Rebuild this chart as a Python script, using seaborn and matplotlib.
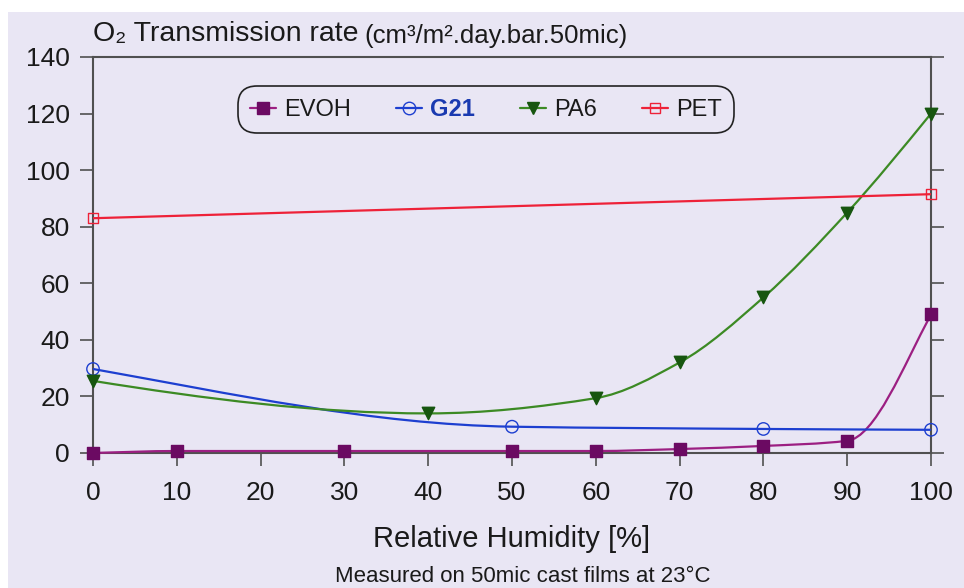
import numpy as np
import matplotlib
matplotlib.use("Agg")
import matplotlib.pyplot as plt
from matplotlib.path import Path
from matplotlib.patches import PathPatch, Rectangle
from matplotlib.lines import Line2D
import seaborn as sns

# values
rh_evoh = [0, 10, 30, 50, 60, 70, 80, 90, 100]
evoh = [0, 0.7, 0.7, 0.7, 0.7, 1.4, 2.5, 4.3, 49]

rh_g21 = [0, 50, 80, 100]
g21 = [29.7, 9.3, 8.5, 8.2]

rh_pa6 = [0, 40, 60, 70, 80, 90, 100]
pa6 = [25.5, 14, 19.4, 32, 55, 85, 120]

rh_pet = [0, 100]
pet = [83, 91.5]

x_ticks = list(range(0, 101, 10))
y_ticks = list(range(0, 141, 20))

bg = "#e9e6f4"
c_evoh_line, c_evoh_mark = "#9c1f82", "#6b0a62"
c_g21 = "#1d3fd0"
c_pa6_line, c_pa6_mark = "#3c8a24", "#17560f"
c_pet = "#ee2238"

sns.set_theme(style="ticks")
plt.rcParams["font.family"] = ["Liberation Sans", "DejaVu Sans"]


def slopes(x, y):
    # monotone (Fritsch-Carlson) tangents, so the smoothed line does not overshoot
    h = np.diff(x)
    d = np.diff(y) / h
    n = len(x)
    m = np.zeros(n)
    for k in range(1, n - 1):
        if d[k - 1] * d[k] > 0:
            w1 = 2 * h[k] + h[k - 1]
            w2 = h[k] + 2 * h[k - 1]
            m[k] = (w1 + w2) / (w1 / d[k - 1] + w2 / d[k])

    def end(h0, h1, d0, d1):
        v = ((2 * h0 + h1) * d0 - h0 * d1) / (h0 + h1)
        if np.sign(v) != np.sign(d0):
            return 0.0
        if np.sign(d0) != np.sign(d1) and abs(v) > 3 * abs(d0):
            v = 3 * d0
        # soften the end tangent towards the chord
        return 0.5 * (v + d0)

    if n > 2:
        m[0] = end(h[0], h[1], d[0], d[1])
        m[-1] = end(h[-1], h[-2], d[-1], d[-2])
    else:
        m[:] = d[0]
    return m


def smooth_path(xs, ys):
    # smoothed line drawn as cubic Bezier segments through the data points
    x = np.asarray(xs, float)
    y = np.asarray(ys, float)
    m = slopes(x, y)
    verts = [(x[0], y[0])]
    codes = [Path.MOVETO]
    for i in range(len(x) - 1):
        h = x[i + 1] - x[i]
        verts += [(x[i] + h / 3, y[i] + m[i] * h / 3),
                  (x[i + 1] - h / 3, y[i + 1] - m[i + 1] * h / 3),
                  (x[i + 1], y[i + 1])]
        codes += [Path.CURVE4] * 3
    return Path(verts, codes)


fig = plt.figure(figsize=(9.64, 5.88), dpi=100, facecolor="white")
fig.patches.append(Rectangle((8 / 964, 0), 1, 1 - 12 / 588, transform=fig.transFigure,
                             facecolor=bg, edgecolor="none", zorder=-5))
ax = fig.add_axes([93 / 964, 1 - 453 / 588, 838 / 964, 396 / 588])
ax.set_facecolor(bg)

series = [
    (rh_evoh, evoh, c_evoh_line, c_evoh_mark, c_evoh_mark, "s", 70),
    (rh_g21, g21, c_g21, "none", c_g21, "o", 80),
    (rh_pa6, pa6, c_pa6_line, c_pa6_mark, c_pa6_mark, "v", 80),
    (rh_pet, pet, c_pet, "none", c_pet, "s", 55),
]
for xs, ys, lc, fc, ec, mk, sz in series:
    ax.add_patch(PathPatch(smooth_path(xs, ys), facecolor="none", edgecolor=lc,
                           linewidth=1.6, clip_on=False, zorder=3))
    sns.scatterplot(x=xs, y=ys, ax=ax, marker=mk, s=sz, facecolor=fc, edgecolor=ec,
                    linewidth=1.0, clip_on=False, zorder=4)

ax.set_xlim(0, 100)
ax.set_ylim(0, 140)
ax.set_xticks(x_ticks)
ax.set_yticks(y_ticks)
for s in ax.spines.values():
    s.set_visible(True)
    s.set_color("#505050")
    s.set_linewidth(1.5)
ax.tick_params(axis="both", direction="out", length=9.5, width=1.2, color="#505050",
               labelsize=19, labelcolor="#1a1a1a")
ax.tick_params(axis="y", right=True, labelright=False, pad=7)
ax.tick_params(axis="x", pad=11)
ax.set_xlabel("Relative Humidity [%]", fontsize=21, color="#1a1a1a", labelpad=14)
ax.set_ylabel("")

handles = [
    Line2D([], [], color=c_evoh_line, marker="s", markersize=8, markerfacecolor=c_evoh_mark,
           markeredgecolor=c_evoh_mark, lw=1.6),
    Line2D([], [], color=c_g21, marker="o", markersize=9, markerfacecolor="none", lw=1.6),
    Line2D([], [], color=c_pa6_line, marker="v", markersize=9, markerfacecolor=c_pa6_mark,
           markeredgecolor=c_pa6_mark, lw=1.6),
    Line2D([], [], color=c_pet, marker="s", markersize=7, markerfacecolor="none", lw=1.6),
]
leg = ax.legend(handles, ["EVOH", "G21", "PA6", "PET"], loc="center",
                bbox_to_anchor=(0.469, 0.868), ncol=4, fontsize=17, frameon=True,
                fancybox=True, handlelength=1.1, handletextpad=0.35, columnspacing=1.9,
                borderpad=0.3, facecolor=bg, edgecolor="#222222", framealpha=1)
leg.get_frame().set_linewidth(1.2)
leg.get_frame().set_boxstyle("round,pad=0.2,rounding_size=0.8")
for t in leg.get_texts():
    t.set_color("#1a1a1a")
g21_text = leg.get_texts()[1]
g21_text.set_color("#1a3ab0")
g21_text.set_fontweight("bold")

t1 = fig.text(93 / 964, 1 - 34 / 588, "O₂ Transmission rate", fontsize=20.5,
              va="center", ha="left", color="#1a1a1a")
fig.canvas.draw()
bb = t1.get_window_extent()
fig.text((bb.x1 + 6) / 964, 1 - 36 / 588, "(cm³/m².day.bar.50mic)", fontsize=18.5,
         va="center", ha="left", color="#1a1a1a")

fig.text(523 / 964, 1 - 576 / 588, "Measured on 50mic cast films at 23°C", fontsize=16,
         ha="center", va="center", color="#1a1a1a")

fig.savefig("out.png", dpi=100, facecolor=fig.get_facecolor())
